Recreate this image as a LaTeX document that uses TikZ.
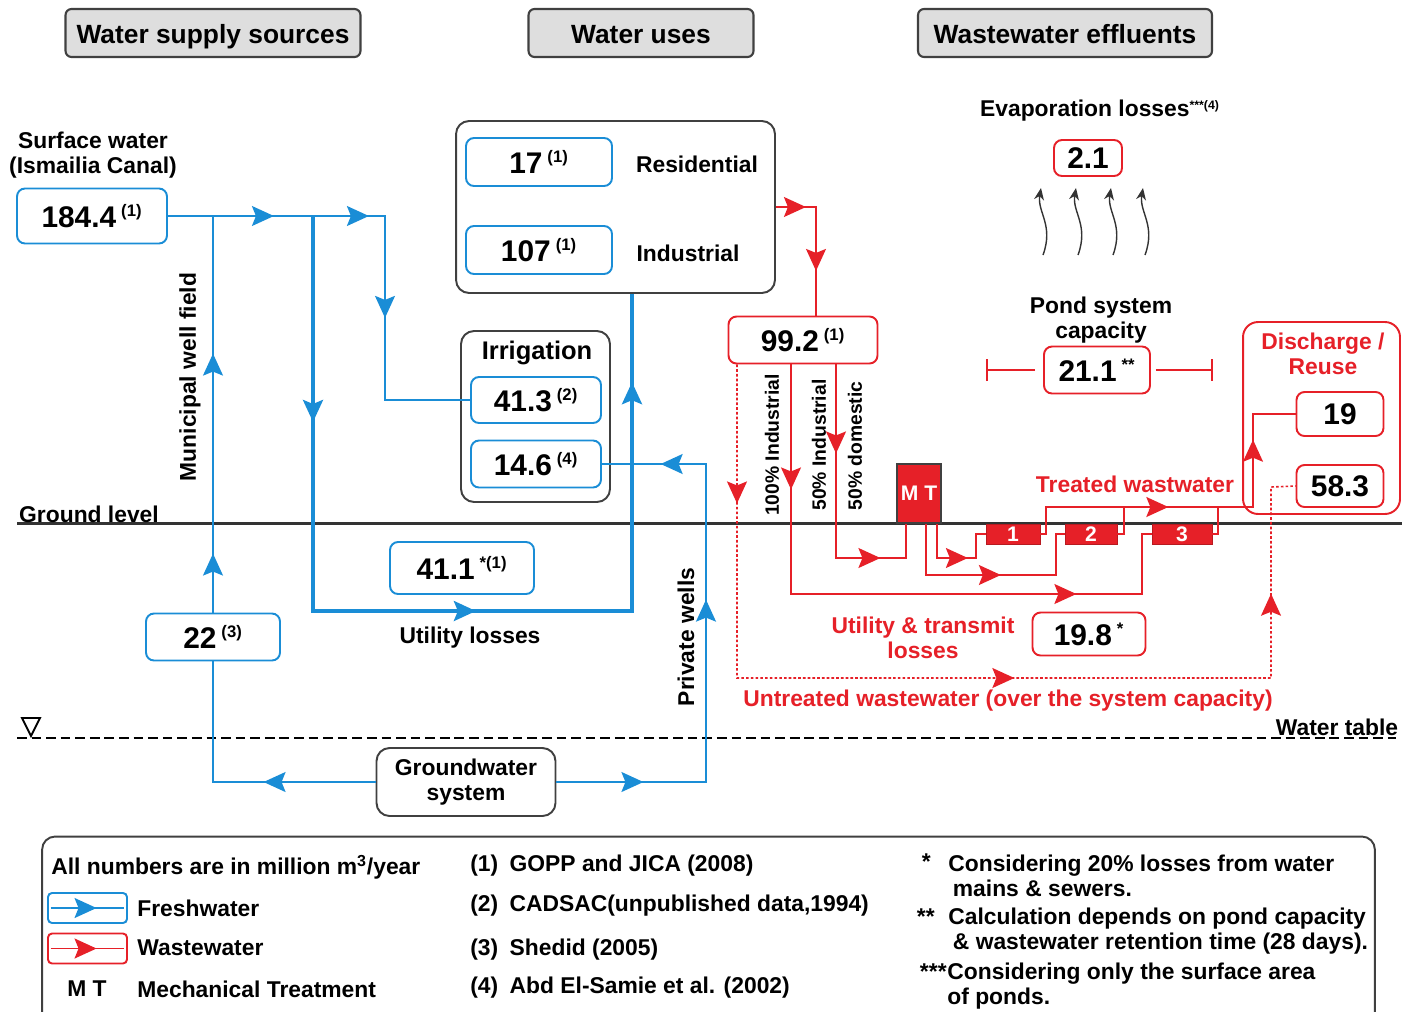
\documentclass[tikz,border=0pt]{standalone}
\usepackage{fontspec}
\setmainfont{Liberation Sans}
\usepackage{tikz}
\usetikzlibrary{arrows.meta,decorations.markings}

\definecolor{fwblue}{RGB}{26,141,214}
\definecolor{wwred}{RGB}{230,32,40}
\definecolor{headgray}{RGB}{222,222,222}
\newcommand{\refmark}[1]{\,\textsuperscript{\fontsize{9.5}{10}\selectfont #1}}

\begin{document}
\begin{tikzpicture}[x=0.02cm,y=-0.02cm,
  >={Stealth[length=4.4mm,width=4mm,inset=0.8mm]},
  every node/.style={inner sep=0pt,font=\bfseries\fontsize{13}{14}\selectfont},
  header/.style={draw=black!75,fill=headgray,line width=1.2pt,rounded corners=0.12cm,
    minimum height=0.96cm,text height=11.5pt,text depth=0pt,
    font=\bfseries\fontsize{15}{17}\selectfont},
  grpbox/.style={draw=black!75,line width=1.1pt,rounded corners=0.26cm},
  fwbox/.style={draw=fwblue,line width=1.1pt,rounded corners=0.16cm,
    font=\bfseries\fontsize{17}{19}\selectfont},
  wwbox/.style={draw=wwred,line width=1.1pt,rounded corners=0.16cm,
    font=\bfseries\fontsize{17}{19}\selectfont},
  pond/.style={fill=wwred,draw=wwred!80!black,minimum height=0.4cm,text=white,
    font=\bfseries\fontsize{12}{12}\selectfont},
  fw/.style={fwblue,line width=1pt},
  fwthick/.style={fwblue,line width=2pt},
  ww/.style={wwred,line width=0.9pt},
  wwdot/.style={ww,dash pattern=on 1.5pt off 1.2pt},
  flowat/.style={postaction={decorate,decoration={markings,
    mark=at position #1 with {\arrow{>}}}}},
  redlbl/.style={text=wwred},
  pctlbl/.style={font=\bfseries\fontsize{11}{12}\selectfont},
  evap/.style={black!80,line width=0.8pt,-{Stealth[length=2.4mm,width=2mm]}}]

  \useasboundingbox (0,0) rectangle (1402,1011);

  % ground level and water table
  \coordinate (gl1) at (17,523);
  \coordinate (gl2) at (1402,523);
  \draw[line width=1.7pt,black!80] (gl1) -- (gl2);
  \coordinate (wt1) at (17,738);
  \coordinate (wt2) at (1396,738);
  \draw[line width=1.4pt,dash pattern=on 5.5pt off 2.8pt] (wt1) -- (wt2);
  \draw[line width=1.1pt] (22,718) -- (40,718) -- (31,736) -- cycle;
  \node (gllab) at (89,514) {Ground level};
  \node (wtlab) at (1337,727) {Water table};

  % headers
  \node[header,minimum width=5.9cm] (hdsrc) at (213,33) {Water supply sources};
  \node[header,minimum width=4.5cm] (hduse) at (641,33) {Water uses};
  \node[header,minimum width=5.88cm] (hdeff) at (1065,33) {Wastewater effluents};

  % supply sources
  \node[align=center] (swlab) at (93,155) {Surface water\\(Ismailia Canal)};
  \node[fwbox,minimum width=3cm,minimum height=1.1cm] (sw) at (92,216) {184.4\refmark{(1)}};
  \node[fwbox,minimum width=2.68cm,minimum height=0.94cm] (mw) at (213,637) {22\refmark{(3)}};
  \node[grpbox,align=center,minimum width=3.58cm,minimum height=1.36cm] (gw) at (466,782) {Groundwater\\system};
  \node[rotate=90] (mwlab) at (190,377) {Municipal well field};
  \node[rotate=90] (pwlab) at (686,637) {Private wells};

  % water uses
  \node[grpbox,minimum width=6.38cm,minimum height=3.44cm] (uses) at (615.5,207) {};
  \node[fwbox,minimum width=2.92cm,minimum height=0.96cm] (res) at (539,162) {17\refmark{(1)}};
  \node (reslab) at (697,164) {Residential};
  \node[fwbox,minimum width=2.92cm,minimum height=0.96cm] (ind) at (539,250) {107\refmark{(1)}};
  \node (indlab) at (688,253) {Industrial};
  \node[grpbox,minimum width=2.98cm,minimum height=3.42cm] (irr) at (535.5,416.5) {};
  \node[font=\bfseries\fontsize{14.5}{16}\selectfont] (irrlab) at (537,353) {Irrigation};
  \node[fwbox,minimum width=2.6cm,minimum height=0.92cm] (irr1) at (536,400) {41.3\refmark{(2)}};
  \node[fwbox,minimum width=2.6cm,minimum height=0.94cm] (irr2) at (536,464) {14.6\refmark{(4)}};
  \node[fwbox,minimum width=2.88cm,minimum height=1.04cm] (loss) at (462,568) {41.1\refmark{*(1)}};
  \node (losslab) at (470,638) {Utility losses};

  % freshwater flows
  \coordinate (j0) at (313,216);
  \coordinate (j1) at (385,216);
  \coordinate (j2) at (632,611);
  \coordinate (j3) at (706,464);
  \draw[fw,flowat=2.12cm,flowat=4.02cm,flowat=6.38cm] (sw.east) -- (j1) |- (irr1.west);
  \draw[fw,flowat=1.18cm,flowat=5.18cm] (mw.north) -- (mw.north |- sw.east);
  \draw[fw,flowat=2.24cm] (gw.west) -| (mw.south);
  \draw[fw,flowat=1.74cm,flowat=6.64cm,flowat=10.26cm] (gw.east) -| (j3) -- (irr2.east);
  \draw[fwthick,flowat=4.12cm,flowat=11.16cm,flowat=18.86cm] (j0) |- (j2) -- (j2 |- uses.south);

  % wastewater
  \node[wwbox,minimum width=2.98cm,minimum height=0.94cm] (ww) at (803,340) {99.2\refmark{(1)}};
  \node[pctlbl,rotate=90] (lab100) at (772,445) {100\% Industrial};
  \node[pctlbl,rotate=90] (lab50i) at (819,445) {50\% Industrial};
  \node[pctlbl,rotate=90] (lab50d) at (855,446) {50\% domestic};
  \node[fill=wwred,draw=black!75,line width=1pt,minimum width=0.88cm,minimum height=1.18cm,
    text=white,font=\bfseries\fontsize{12}{12}\selectfont] (mt) at (919,493.5) {M T};
  \node[pond,minimum width=1.08cm] (p1) at (1013,534) {1};
  \node[pond,minimum width=1.04cm] (p2) at (1091,534) {2};
  \node[pond,minimum width=1.2cm] (p3) at (1182,534) {3};
  \node[redlbl] (twlab) at (1135,484) {Treated wastwater};
  \node[align=center] (caplab) at (1101,320) {Pond system\\capacity};
  \node[wwbox,minimum width=2.12cm,minimum height=0.94cm] (cap) at (1097,370) {21.1\refmark{**}};
  \node (evlab) at (1100,111) {Evaporation losses\textsuperscript{\fontsize{7}{7}\selectfont ***(4)}};
  \node[wwbox,minimum width=1.36cm,minimum height=0.72cm] (ev) at (1088,158) {2.1};
  \node[draw=wwred,line width=1.1pt,rounded corners=0.3cm,minimum width=3.14cm,
    minimum height=3.84cm] (disch) at (1321.5,418) {};
  \node[redlbl,align=center] (dischlab) at (1323,354) {Discharge /\\Reuse};
  \node[wwbox,minimum width=1.74cm,minimum height=0.88cm] (d19) at (1340,414) {19};
  \node[wwbox,minimum width=1.74cm,minimum height=0.84cm] (d58) at (1340,486) {58.3};
  \node[redlbl,align=center] (utlab) at (923,638) {Utility \& transmit\\losses};
  \node[wwbox,minimum width=2.26cm,minimum height=0.86cm] (ul) at (1089,634) {19.8\refmark{*}};
  \node[redlbl] (untr) at (1008,701) {Untreated wastewater (over the system capacity)};

  % wastewater flows
  \coordinate (k1) at (816,207);
  \coordinate (d1) at (737,678);
  \coordinate (d2) at (1271,487);
  \coordinate (e1) at (791,594);
  \coordinate (e2) at (1142,534);
  \coordinate (f1) at (836,558);
  \coordinate (f2) at (906,558);
  \coordinate (g1) at (926,575);
  \coordinate (g2) at (1056,534);
  \coordinate (m1) at (937,558);
  \coordinate (m2) at (976,534);
  \coordinate (t1) at (1046,507);
  \coordinate (t2) at (1253,507);
  \coordinate (t3) at (1124,507);
  \coordinate (t4) at (1218,507);
  \draw[ww,flowat=0.6cm,flowat=2.08cm] (uses.east) -- (k1) -- (k1 |- ww.north);
  \draw[wwdot,flowat=2.78cm,flowat=11.82cm,flowat=18.64cm] (ww.south -| d1) -- (d1) -| (d2) -- (d58.west);
  \draw[ww,flowat=2.5cm,flowat=10.3cm] (ww.south -| e1) -- (e1) -| (e2) -- (p3.west);
  \draw[ww,flowat=1.78cm,flowat=4.76cm] (ww.south -| f1) -- (f1) -- (f2) -- (mt.south -| f2);
  \draw[ww,flowat=2.52cm] (mt.south -| g1) -- (g1) -| (g2) -- (p2.west);
  \draw[ww,flowat=1.3cm] (mt.south -| m1) -- (m1) -| (m2) -- (p1.west);
  \draw[ww,flowat=3.1cm,flowat=6.14cm] (p1.east) -| (t1) -- (t2) |- (d19.west);
  \draw[ww] (p2.east) -| (t3);
  \draw[ww] (p3.east) -| (t4);

  % pond capacity span
  \coordinate (capl) at (986,370);
  \coordinate (capr) at (1213,370);
  \draw[ww,shorten <=0.16cm,-{Bar[width=4.4mm]}] (cap.west) -- (capl);
  \draw[ww,shorten <=0.1cm,-{Bar[width=4.4mm]}] (cap.east) -- (capr);

  % evaporation
  \foreach \x in {1042,1077,1112,1144}
    \draw[evap] (\x+1,255) .. controls (\x+12,225) and (\x-5,212) .. (\x-1,188);

  % legend
  \node[grpbox,minimum width=26.66cm,minimum height=3.9cm] (legend) at (708.5,934) {};
  \node[anchor=west] (unitlab) at (51,867) {All numbers are in million m\textsuperscript{3}/year};
  \node[draw=fwblue,line width=1.1pt,rounded corners=0.08cm,minimum width=1.58cm,
    minimum height=0.6cm] (fwkey) at (87.5,908) {};
  \draw[fw,flowat=0.92cm] ([xshift=2pt]fwkey.west) -- ([xshift=-2pt]fwkey.east);
  \node[anchor=west] (fwlab) at (137,908) {Freshwater};
  \node[draw=wwred,line width=1.1pt,rounded corners=0.08cm,minimum width=1.58cm,
    minimum height=0.6cm] (wwkey) at (87.5,948.5) {};
  \draw[ww,flowat=0.92cm] ([xshift=2pt]wwkey.west) -- ([xshift=-2pt]wwkey.east);
  \node[anchor=west] (wwlab) at (137,948) {Wastewater};
  \node (mtkey) at (87,989) {M T};
  \node[anchor=west] (mtlab) at (137,989) {Mechanical Treatment};
  \node[anchor=west] (ref1) at (470,866) {(1)\enspace GOPP and JICA (2008)};
  \node[anchor=west] (ref2) at (470,906) {(2)\enspace CADSAC(unpublished data,1994)};
  \node[anchor=west] (ref3) at (470,950) {(3)\enspace Shedid (2005)};
  \node[anchor=west] (ref4) at (470,988) {(4)\enspace Abd El-Samie et al. (2002)};
  \node[anchor=east] (fn1s) at (931,862) {*};
  \node[anchor=west,align=left] (fn1) at (948,876) {Considering 20\% losses from water\\\hspace{0.2em}mains \& sewers.};
  \node[anchor=east] (fn2s) at (935,917) {**};
  \node[anchor=west,align=left] (fn2) at (948,931) {Calculation depends on pond capacity\\\hspace{0.2em}\& wastewater retention time (28 days).};
  \node[anchor=east] (fn3s) at (947,972) {***};
  \node[anchor=west,align=left] (fn3) at (947,986) {Considering only the surface area\\of ponds.};
\end{tikzpicture}
\end{document}
